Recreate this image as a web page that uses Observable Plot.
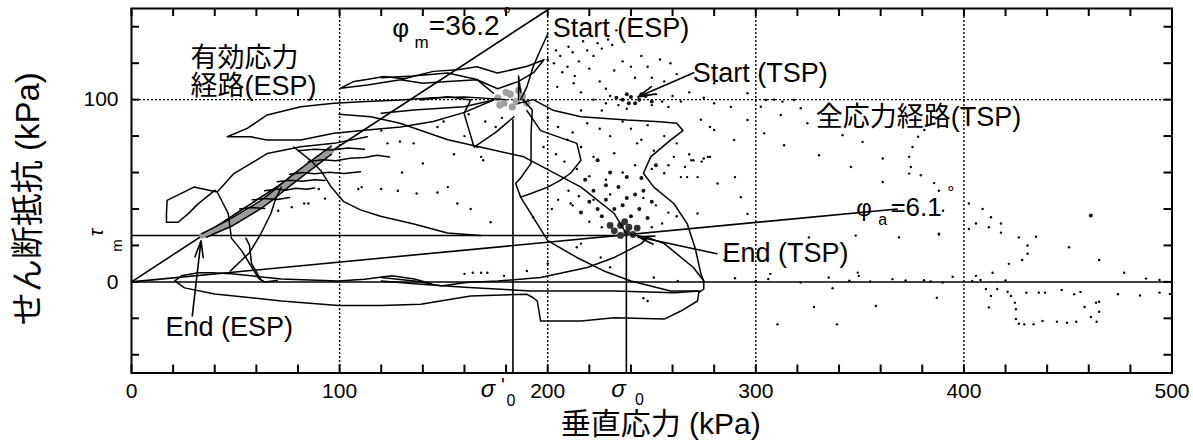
<!DOCTYPE html>
<html><head><meta charset="utf-8">
<script src="https://cdn.jsdelivr.net/npm/d3@7"></script>
<script src="https://cdn.jsdelivr.net/npm/@observablehq/plot@0.6"></script>
<style>body{margin:0;background:#fff} svg{display:block}</style>
</head><body><div id="chart"></div>
<script>
// ---- axes / reference values (kPa) ----
const xTicks = [0, 100, 200, 300, 400, 500];
const yTicks = [0, 100];
const minorX = d3.range(0, 501, 20);
const minorY = d3.range(-40, 141, 20);
const gridX = [100, 200, 300, 400];
const gridY = [100];
const sigmaEff0 = 183.3, sigma0 = 237.8, tauM = 25.4, sigmaEffTop = 89;
const phiMLine = [[0, 0], [201, 150]];
const phiALine = [[0, 0], [368, 40]];

// ---- effective stress path (ESP) strokes ----
const espA = [[180,100],[160,101.5],[145,101],[129.3,99.8],[113,99],[97.3,98],[81.3,96.1],[65.2,91.6],[55.6,84.2],[46,79.6],[57.2,79.6],[65.2,77.8],[81.3,77.8],[97.3,81.5],[113.3,83.3],[129.3,85],[145,88],[160,93],[174,99.8]];
const espB = [[100.5,106.3],[106.9,110],[113,111],[121.3,112.7],[131,111.5],[145,115.5],[156.6,116.4],[166,118],[175.8,114.6],[190.2,118.3],[198.2,121.9],[193.4,115],[186,110],[176,106],[166,110.9],[152,110],[140,109],[129.3,110.9],[113.3,108],[100.5,106.3]];
const espD = [[113.3,79.6],[97.3,76],[81.3,74.1],[65.2,70.4],[49.2,59.4],[41.2,49.3],[30,52],[17.1,44.7],[16.8,37.3],[16.8,32.7],[22.4,32.7],[27.2,37.3],[32,42.8],[40,50.2],[41.2,49.3],[44,43],[46.5,37.5],[48,24],[53,17],[61,2],[64,0],[70,0.8]];
const espE = [[47.5,6],[56.7,16],[62,26],[67,37.5],[69,44.7],[72,52]];
const espF = [[55,24],[56.7,20],[57.7,10],[62.5,0.5]];
const espG = [[144,-1],[136,1.6],[125,3.3],[112,1.5],[99.4,0.5],[72,1.6],[48,4.4],[38.5,5],[32,5],[24,3.3],[20.8,0.5],[25.5,-3.3],[40,-6.6],[72,-10.5],[99.4,-13],[120,-13],[139,-12.3],[163,-7.7],[190,-6.8],[193,-8.7],[195,-10.5],[196.6,-21.5],[216,-21.5],[232,-19.7],[256,-20.4],[264,-16],[272,-10.5],[272.6,-5.9],[275,-3.9],[275,0.5],[270,7.9],[256,21],[248,24.4],[240,26]];
const espH = [[120,0.5],[136,-1],[160,-3],[192,-5],[232,-5],[261,-5.9],[273,-5]];
const espI = [[120,2.4],[136,0.5],[148.6,-2.2],[161,-0.4],[176,0.5],[196.6,2.4],[219,7.9],[232,13.4],[245,21],[248,24.4]];
const espJ = [[188,100],[192.6,94.3],[192,81.6],[192,65],[187,57],[184.6,54],[187,46.5],[200,22.6],[214,13.4],[227,6],[240,0.5],[259,-5],[272,-5]];
const espK = [[190,94],[196.6,83],[209.5,77.8],[214,76],[216,66.7],[211,59.6],[206,55.7],[200,52],[192,48.5],[187,46.5]];
const espL = [[99.7,92],[115,90.6],[129,87],[152,78],[188.5,68.6],[216,52],[232,37.5],[238,26]];
const espM = [[78,74],[86,66.7],[91,61],[96,52],[102,44],[110,39.5],[119.7,36],[135.7,31.8],[151.8,26.8],[167.8,25.4]];
const espN = [[186,98],[193,100],[203,94],[216,90.6],[238,88.8],[254,87.9],[262,87],[265,83],[259,77.8],[249.5,68.6],[246,59.6],[251,52],[260.6,43],[267,32],[271,18],[273.6,4.4],[275,0.5]];
const espO1 = [[120,112],[135,113],[152,114.6],[166,111],[174,103.5]];
const espO2 = [[120,92.5],[135.7,94.3],[159.8,96.1],[174,99.8]];
const espO3 = [[139,99.8],[151.8,101.6],[163,99.8],[159.8,92.5],[164.6,74],[175,82],[183.8,90.6]];
const espQ = [[186,100],[186,113],[187,104]];
const espJ1 = [[64,50],[70,51],[74,50.3],[79,51.4],[84,50.8],[88,51.5]];
const espJ2 = [[70,55],[76,55.8],[82,55.2],[88,56.1],[93,55.6]];
const espJ3 = [[76,59],[82,60],[88,59.3],[95,60.2],[102,59.5],[110,60.4]];
const espJ4 = [[85,66],[92,67],[98,66.4],[105,67.8],[112,68.3],[118,69.5],[124,68.5]];
const espJ5 = [[80,72],[88,72.8],[96,72.3],[104,73.5],[112,72.8]];
const espJ6 = [[58,45],[64,45.8],[70,45.2],[76,46.3]];
const espJ7 = [[52,40],[58,40.8],[64,40.3]];
const espBand = [[34,25.4],[42,29.5],[48,32.5],[55,37],[62,42],[69,48.4],[76,55],[84,62],[90,67],[96,72]];
const espBandUpper = [[34,26.5],[48,34.8],[62,44.5],[69,50.8],[76,57.5],[84,64.5],[96,74.5]];
const espBandLower = [[36,24.5],[48,30.5],[62,40],[69,46],[76,52.5],[84,59.5],[96,70]];
const espCluster = [[176,101],[179,98],[182,103],[185,99],[188,102],[183,96],[180,104],[186,105],[190,98],[177,97]];
const startEspLeader = [[200,136],[196,126],[193,118],[190,107],[187,100]];

// ---- total stress path (TSP) dots ----
const tspDots = [
[200,122],[203,120],[206,124],[209.5,118],[212,126],[215,121],[219,127],[222,124],[224,131],[226,128],[229,133],[231,130],[228,136],[233,138],[217,132],[210,129],[204,127],[207,115],[213,113],[220,117],[232,116],[236,121],[240,118],[245,124],[248,118],[254,122],[259,120],[262,114],[256,110],[250,112],[242,112],[225,110],[212.5,109],[204.6,107],[216,104],[228,106],
[230,102],[234,97],[238,95],[250,97],[252,103],[255,99],[258,96],[228,98],[226,94],[222,100],[260,102],[264,99],[268,104],[275,101],[280,98],[273.6,89],[280,83.3],[288,96],[296,88.8],[304,81.5],[296,103.5],[280,109],[308.8,100],[304.8,99.8],[312.8,98.9],[318.4,99.8],[312,91.6],[302.4,96.1],[321.6,95.3],[324.8,87],[278,85],[289.6,77.8],
[216,94],[219,87],[209.5,78],[216,74],[222,68.6],[232,70.6],[243,76],[245,78],[251,72],[260.6,68.6],[269,66.7],[277,68.6],[256,59.6],[264,57.5],[272,57.5],[281.6,54],[200,90],[205,85],[212,82],[225,84],[230,80],[236,88],[240,84],[248,86],[256,80],[262,76],[268,70],[274,66],[266,63],[258,64],[250,62],[242,64],[236,60],[228,56],[220,58],[214,62],[208,66],[204,70],[198,74],[210,50],[215,47],[222,45],[230,48],[246,46],[252,42],[258,38],[262,36],[255,32],[250,30],[226,30],[220,33],[216,38],[212,42],[205,45],[202,40],[272,37.5],[193,35.5],[211,43],[214,19],[225.5,13.4],[216,21],[270,66.7],[275,67.7],[278,68.6],[267,57.5],[290,57.5],[292.8,46.5],[296,37.3],
[123,76],[129,77],[135.6,76],[147,85],[152,52],[168,68.6],[169,66.7],[166,74],[160,80],[155,70],[140,65],[130,60],[147,49],[156.6,43],[163,40],[172.6,32.7],[120,83],[109,51],[90,51],[83,43],[110.6,52],[120,51],[128,50],[137,48.5],[77,41],[85,43],[70.5,39],[93,45.7],[175,85],[178,90],[170,88],[162,92],[150,88],
[160,4.4],[164,5],[171,5],[179,3.3],[190,6],[168,5],[246,-9],[251,2.4],[262.5,0.5],[248,-10.5],[307,4.4],[200,10],[230,8],[290,2],[300,0.5],[285,12],
[313.6,75],[330.4,69.5],[351.3,76.8],[361,67.7],[345.7,63],[341.7,80.5],[381,83.3],[382.5,86],[375.3,74],[373.7,68.6],[374.5,63],[373.7,59.4],[379.3,58.5],[385.7,54.2],[361,54.8],[378,79.6],[388,50],[390,39],[388,26.5],
[310.4,-23.3],[328,-13.8],[339,-23.3],[357.7,-13.2],[387,-8.7],[336.9,-3.5],[349,5.1],[349.5,3.3],[348,25.4],[368.8,24.4],[388,25.9],[325.5,24.4],[394.6,2.8],[380.8,0.9],[321.6,-0.4],[306,1.6],[335,2.4],[365.7,1.5],[384,0.2],[389.8,-0.4],[345,0.6],[355,0.2],[372,0.8],
[402.4,43],[409,40],[413,35.5],[402.4,29],[405.8,32],[412,30],[417.8,32],[417.8,27],[426.4,24.4],[430.6,20],[434.6,24.8],[430.6,15.4],[428,12],[421.6,9.9],[413.8,5],[405.8,3.3],[450.5,19],[465,12],[477,5],[487.5,1.8],[494,1],
[410.6,-3.9],[413,-7.7],[412,-14],[416,-3.9],[421,-5.4],[422.6,-7.7],[424.5,-11.4],[425,-15],[425,-20.4],[426.4,-23],[429,-23.3],[433.5,-23.3],[437.8,-21.5],[444.7,-21.9],[449.5,-22.4],[454,-21.9],[463.8,-21.9],[461,-19.3],[465,-16.4],[463.5,-11.4],[465,-10.9],[458,-13.8],[430,-6],[436,-5.9],[439,-5.9],[447,-4.4],[453,-6.8],[456,-5.5],[474,-6.8],[484.6,-7.5],[494,-5.9],[499,-6.6],[404,0.5],[408,1],[420,0.8]
];
const tspBlobs = [[226,36],[240,36],[248,35],[224,40],[232,40],[244,40],[228,45],[238,46],[250,44],[222,50],[234,52],[246,50],[238,57.5],[224,66.7],[230,60],[252,64],[216,38],[220,44],[236,42],[242,48],[228,53],[218,56],[245,57],[461,36.4],
[236,100],[240,101.5],[244,100],[247,102],[242,98],[238,103],[233,101],[250,99],[239,98],[245,103]];
const tspEndCore = [[232,28],[235,25.5],[238,27],[241,26],[239,30],[235,31],[243,29.5],[230,31],[237,33]];

// ---- annotations ----
const annotations = [
  {text: "有効応力", x: 28.4, y: 122.7},
  {text: "経路(ESP)", x: 28.4, y: 107.3},
  {text: "全応力経路(TSP)", x: 328.8, y: 90.2},
  {text: "Start (ESP)", x: 202.4, y: 139},
  {text: "Start (TSP)", x: 269.7, y: 114.5},
  {text: "End (TSP)", x: 284, y: 15.4},
  {text: "End (ESP)", x: 16.3, y: -24.8}
];
const arrows = [
  {x1: 29.2, y1: -18.7, x2: 33.4, y2: 22.6},
  {x1: 281.3, y1: 15.4, x2: 243.3, y2: 24.8},
  {x1: 270.2, y1: 114.7, x2: 243.3, y2: 101.5}
];
const phiMParts = [
  {text: "φ", x: 129.3, y: 139, size: 26, italic: true},
  {text: "m", x: 139.4, y: 131.3, size: 17},
  {text: "=36.2", x: 159.9, y: 140.6, size: 28},
  {text: "°", x: 180.5, y: 146, size: 20}
];
const phiAParts = [
  {text: "φ", x: 352, y: 40.3, size: 24, italic: true},
  {text: "a", x: 361, y: 34.2, size: 16},
  {text: "=6.1", x: 377, y: 40.5, size: 26},
  {text: "°", x: 393.75, y: 48.5, size: 18}
];
const xTitle = "垂直応力 (kPa)";
const yTitle = "せん断抵抗 (kPa)";

const FONT = '"Liberation Sans", Arial, Helvetica, "Noto Sans CJK JP", sans-serif';
const P = d => d[0], Q = d => d[1];
const espStrokes = [espA, espB, espD, espE, espF, espG, espH, espI, espJ, espK, espL, espM, espN, espO1, espO2, espO3, espQ, espJ1, espJ2, espJ3, espJ4, espJ5, espJ6, espJ7, espBandUpper, espBandLower];
const espTable = espStrokes.flatMap((s, i) => s.map(([x, y]) => ({x, y, s: i})));

const W = 1193, H = 442, ML = 131, MR = 21.5, MT = 8, MB = 69.5;
const innerW = W - ML - MR, innerH = H - MT - MB;
const xDom = [0, 500], yDom = [-50, 150];
// inward tick lengths (8 px) expressed in data units
const tickLenY = 8 * (yDom[1] - yDom[0]) / innerH;
const tickLenX = 8 * (xDom[1] - xDom[0]) / innerW;

const chart = Plot.plot({
  width: W, height: H,
  marginLeft: ML, marginRight: MR, marginTop: MT, marginBottom: MB,
  x: {domain: xDom},
  y: {domain: yDom},
  style: {fontFamily: FONT, background: "#fff", color: "#000", fontSize: "21px"},
  marks: [
    Plot.ruleX(gridX, {stroke: "#000", strokeWidth: 1.4, strokeDasharray: "2,2"}),
    Plot.ruleY(gridY, {stroke: "#000", strokeWidth: 1.4, strokeDasharray: "2,2"}),
    Plot.ruleY([0], {stroke: "#000", strokeWidth: 1.5}),
    Plot.ruleY([tauM], {x1: 0, x2: sigma0, stroke: "#000", strokeWidth: 1.5}),
    Plot.ruleX([sigmaEff0], {y1: yDom[0], y2: sigmaEffTop, stroke: "#000", strokeWidth: 1.6}),
    Plot.ruleX([sigma0], {y1: yDom[0], y2: tauM, stroke: "#000", strokeWidth: 1.6}),
    Plot.line(phiMLine, {x: P, y: Q, stroke: "#000", strokeWidth: 1.6}),
    Plot.line(phiALine, {x: P, y: Q, stroke: "#000", strokeWidth: 1.6}),
    Plot.dot(tspDots, {x: P, y: Q, r: 1.2, fill: "#000"}),
    Plot.dot(tspBlobs, {x: P, y: Q, r: 2, fill: "#111"}),
    Plot.dot(tspEndCore, {x: P, y: Q, r: 3.4, fill: "#333"}),
    Plot.line(espBand, {x: P, y: Q, stroke: "#9a9a9a", strokeWidth: 6}),
    Plot.dot(espCluster, {x: P, y: Q, r: 3.6, fill: "#a0a0a0"}),
    Plot.line(espTable, {x: "x", y: "y", z: "s", stroke: "#000", strokeWidth: 1.5}),
    Plot.line(startEspLeader, {x: P, y: Q, stroke: "#000", strokeWidth: 1.5}),
    Plot.arrow(arrows, {x1: "x1", y1: "y1", x2: "x2", y2: "y2", stroke: "#000", strokeWidth: 1.6, headLength: 16, headAngle: 28}),
    Plot.text(annotations, {x: "x", y: "y", text: "text", textAnchor: "start", lineAnchor: "middle", fontSize: 27, fill: "#000"}),
    Plot.text([...phiMParts, ...phiAParts], {x: "x", y: "y", text: "text", textAnchor: "middle", lineAnchor: "middle", fontSize: d => d.size, fontStyle: d => d.italic ? "italic" : "normal", fill: "#000"}),
    // sigma labels under the axis
    Plot.text([sigmaEff0], {x: d => d, frameAnchor: "bottom", text: () => "σ", dx: -25, dy: 16, fontSize: 24, fontStyle: "italic", textAnchor: "middle", lineAnchor: "middle"}),
    Plot.text([sigmaEff0], {x: d => d, frameAnchor: "bottom", text: () => "'", dx: -10, dy: 13, fontSize: 20, textAnchor: "middle", lineAnchor: "middle"}),
    Plot.text([sigmaEff0], {x: d => d, frameAnchor: "bottom", text: () => "0", dx: -2, dy: 28, fontSize: 16, textAnchor: "middle", lineAnchor: "middle"}),
    Plot.text([sigma0], {x: d => d, frameAnchor: "bottom", text: () => "σ", dx: -8, dy: 16, fontSize: 24, fontStyle: "italic", textAnchor: "middle", lineAnchor: "middle"}),
    Plot.text([sigma0], {x: d => d, frameAnchor: "bottom", text: () => "0", dx: 13, dy: 27, fontSize: 16, textAnchor: "middle", lineAnchor: "middle"}),
    // tau_m label
    Plot.text([tauM], {y: d => d, frameAnchor: "left", text: () => "τ", dx: -35, dy: -3, fontSize: 20, fontStyle: "italic", rotate: -90, textAnchor: "middle", lineAnchor: "middle"}),
    Plot.text([tauM], {y: d => d, frameAnchor: "left", text: () => "m", dx: -14, dy: 10, fontSize: 15, rotate: -90, textAnchor: "middle", lineAnchor: "middle"}),
    // axis titles
    Plot.text([xTitle], {frameAnchor: "bottom", text: d => d, dx: 9, dy: 51, fontSize: 30, textAnchor: "middle", lineAnchor: "middle"}),
    Plot.text([yTitle], {frameAnchor: "left", text: d => d, dx: -103, dy: 8, fontSize: 33, rotate: -90, textAnchor: "middle", lineAnchor: "middle"}),
    Plot.frame({stroke: "#000", strokeWidth: 2}),
    // inward minor ticks on all four sides (drawn on top of the frame)
    Plot.ruleX(minorX, {x: d => d, y1: yDom[0], y2: yDom[0] + tickLenY, stroke: "#000", strokeWidth: 2}),
    Plot.ruleX(minorX, {x: d => d, y1: yDom[1] - tickLenY, y2: yDom[1], stroke: "#000", strokeWidth: 2}),
    Plot.ruleY(minorY, {y: d => d, x1: xDom[0], x2: xDom[0] + tickLenX, stroke: "#000", strokeWidth: 2}),
    Plot.ruleY(minorY, {y: d => d, x1: xDom[1] - tickLenX, x2: xDom[1], stroke: "#000", strokeWidth: 2}),
    // tick labels
    Plot.axisX({anchor: "bottom", ticks: xTicks, tickSize: 0, tickPadding: 10, fontSize: 21, label: null}),
    Plot.axisY({anchor: "left", ticks: yTicks, tickSize: 0, tickPadding: 13, fontSize: 21, label: null})
  ]
});
document.getElementById("chart").appendChild(chart);
</script>
</body></html>
